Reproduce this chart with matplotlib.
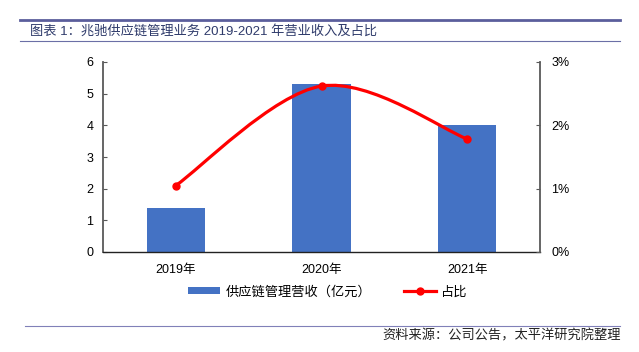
import matplotlib.pyplot as plt
from matplotlib.path import Path
from matplotlib.patches import PathPatch
from matplotlib.lines import Line2D
from matplotlib.patches import Patch
from matplotlib.ticker import FuncFormatter

plt.rcParams['font.family'] = ['Liberation Sans', 'Noto Sans CJK SC', 'DejaVu Sans']

# data
years = ['2019年', '2020年', '2021年']
revenue = [1.4, 5.3, 4.0]          # 供应链管理营收（亿元）
share = [1.05, 2.62, 1.785]        # 占比, in %

title = '图表 1：兆驰供应链管理业务 2019-2021 年营业收入及占比'
source = '资料来源：公司公告，太平洋研究院整理'

bar_color = '#4472C4'
line_color = '#FF0000'

fig = plt.figure(figsize=(6.39, 3.52), dpi=100)
ax = fig.add_axes([103/639, 1 - 252/352, 437/639, 190/352])

x = list(range(len(years)))
ax.bar(x, revenue, width=0.4, color=bar_color, zorder=2)
ax.set_xlim(-0.5, len(years) - 0.5)
ax.set_ylim(0, 6)
ax.set_yticks(range(0, 7))
ax.set_xticks(x)
ax.set_xticklabels(years, fontsize=9)
ax.tick_params(axis='x', length=0, pad=9)
ax.tick_params(axis='y', direction='in', length=3, labelsize=9, color='#595959', pad=7)
ax.spines['top'].set_visible(False)
ax.spines['right'].set_visible(False)
ax.spines['left'].set_color('#595959')
ax.spines['left'].set_linewidth(1.3)
ax.spines['bottom'].set_color('#222222')
ax.spines['bottom'].set_linewidth(1.0)

ax2 = ax.twinx()
ax2.set_ylim(0, 3)
ax2.set_yticks([0, 1, 2, 3])
ax2.yaxis.set_major_formatter(FuncFormatter(lambda v, p: f'{v:.0f}%'))
ax2.tick_params(axis='y', direction='in', length=3, labelsize=9, color='#595959', pad=8)
ax2.spines['top'].set_visible(False)
ax2.spines['left'].set_visible(False)
ax2.spines['bottom'].set_visible(False)
ax2.spines['right'].set_color('#595959')
ax2.spines['right'].set_linewidth(1.3)

# smoothed line (Catmull-Rom style bezier through the data points)
pts = list(zip(x, share))
verts = [pts[0]]
codes = [Path.MOVETO]
for i in range(len(pts) - 1):
    p0 = pts[i - 1] if i > 0 else pts[i]
    p1 = pts[i]
    p2 = pts[i + 1]
    p3 = pts[i + 2] if i + 2 < len(pts) else pts[i + 1]
    c1 = (p1[0] + (p2[0] - p0[0]) / 6, p1[1] + (p2[1] - p0[1]) / 6)
    c2 = (p2[0] - (p3[0] - p1[0]) / 6, p2[1] - (p3[1] - p1[1]) / 6)
    verts += [c1, c2, p2]
    codes += [Path.CURVE4] * 3
ax2.add_patch(PathPatch(Path(verts, codes), facecolor='none', edgecolor=line_color,
                        linewidth=2.3, zorder=3, capstyle='round'))
ax2.plot(x, share, 'o', color=line_color, markersize=5, zorder=4)

handles = [Patch(facecolor=bar_color),
           Line2D([0], [0], color=line_color, lw=2.3, marker='o', markersize=5)]
fig.legend(handles, ['供应链管理营收（亿元）', '占比'], loc='center',
           bbox_to_anchor=(328/639, 1 - 292/352), ncol=2, frameon=False,
           fontsize=9.5, handlelength=2.4, handleheight=0.45, columnspacing=2.5,
           handletextpad=0.4)

# header and footer decoration
fig.add_artist(Line2D([20/639, 620/639], [1 - 20/352, 1 - 20/352], color='#5B5E9C', lw=2))
fig.add_artist(Line2D([20/639, 620/639], [1 - 41/352, 1 - 41/352], color='#6B6FA6', lw=0.8))
fig.add_artist(Line2D([25/639, 620/639], [1 - 326/352, 1 - 326/352], color='#8080B8', lw=0.8))
fig.text(30/639, 1 - 31/352, title, fontsize=9.5, color='#2F3B6B', va='center', ha='left')
fig.text(621/639, 1 - 336/352, source, fontsize=9.5, color='#222222', va='center',
         ha='right', style='italic')

fig.savefig('out.png', dpi=100)
